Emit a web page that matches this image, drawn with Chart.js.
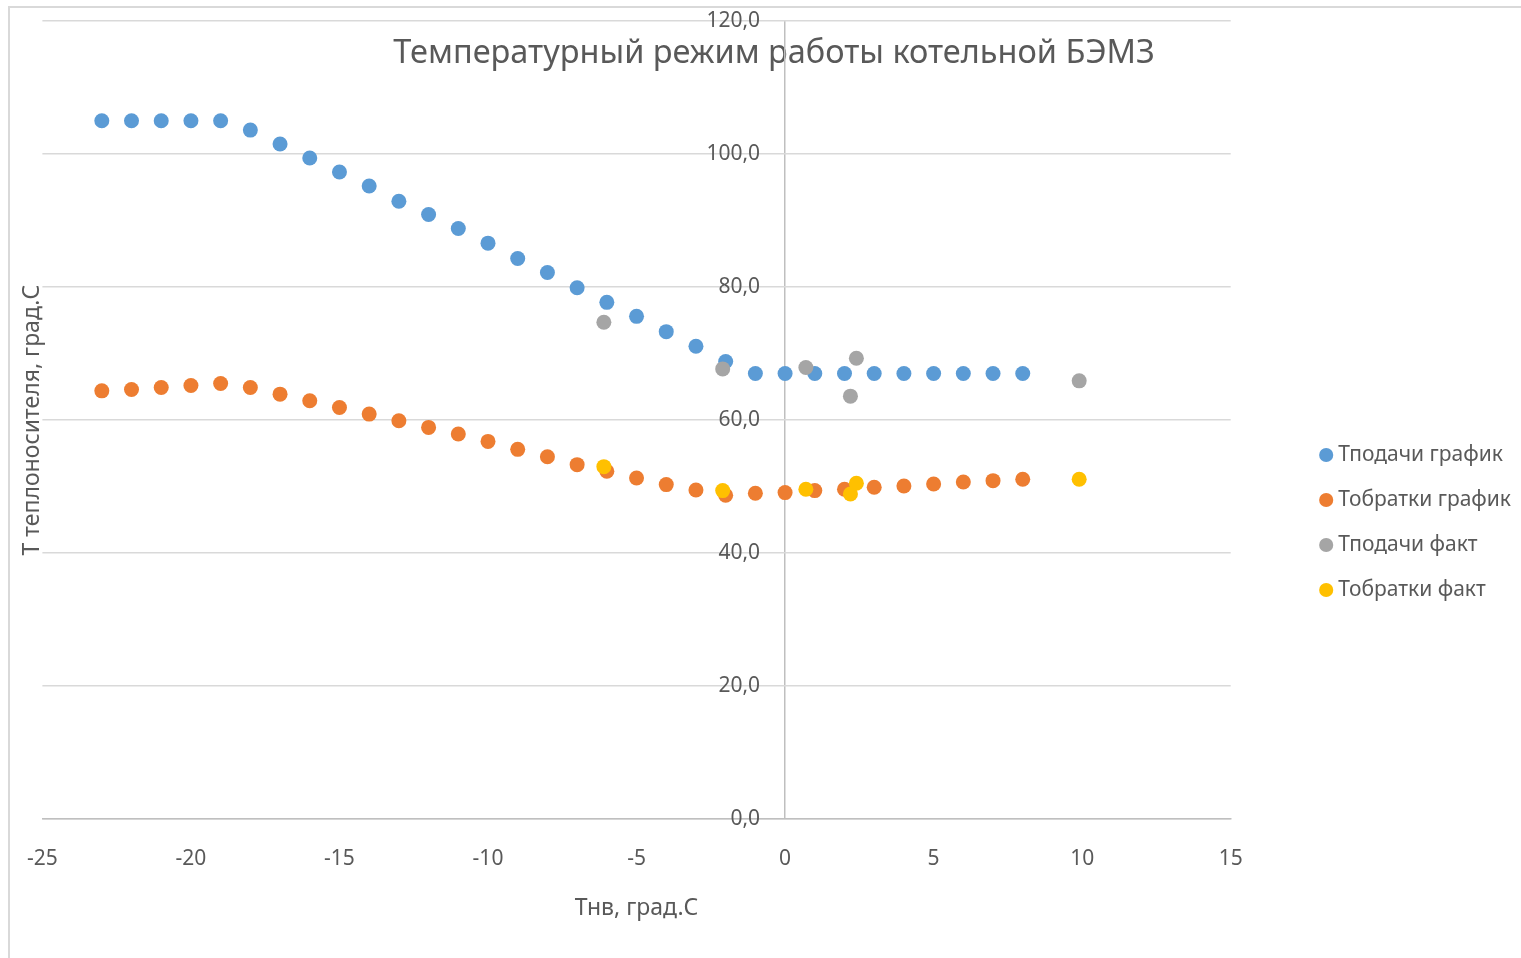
<!DOCTYPE html>
<html>
<head>
<meta charset="utf-8">
<script src="https://cdn.jsdelivr.net/npm/chart.js@4.4.1/dist/chart.umd.min.js"></script>
<style>
  html, body { margin: 0; padding: 0; background: #fff; overflow: hidden; }
  #frame { position: absolute; left: 8px; top: 6px; width: 1700px; height: 1100px; border: 2px solid #d9d9d9; }
  #wrap { position: absolute; left: 0; top: 0; width: 1521px; height: 958px; }
</style>
</head>
<body>
<div id="frame"></div>
<div id="wrap"><canvas id="myChart"></canvas></div>
<script>
var chartTitle = "Температурный режим работы котельной БЭМЗ";
var xTitle = "Тнв, град.С";
var yTitle = "Т теплоносителя, град.С";
var seriesNames = ["Тподачи график", "Тобратки график", "Тподачи факт", "Тобратки факт"];

// графики по наружной температуре
var xGraph = [-23, -22, -21, -20, -19, -18, -17, -16, -15, -14, -13, -12, -11, -10, -9, -8,
  -7, -6, -5, -4, -3, -2, -1, 0, 1, 2, 3, 4, 5, 6, 7, 8];
var tPodGraph = [105, 105, 105, 105, 105, 103.6, 101.5, 99.4, 97.3, 95.2, 92.9, 90.9, 88.8, 86.6, 84.3, 82.2,
  79.9, 77.7, 75.6, 73.3, 71.1, 68.8, 67, 67, 67, 67, 67, 67, 67, 67, 67, 67];
var tObrGraph = [64.4, 64.6, 64.9, 65.2, 65.5, 64.9, 63.9, 62.9, 61.9, 60.9, 59.9, 58.9, 57.9, 56.8, 55.6, 54.5,
  53.3, 52.3, 51.3, 50.3, 49.5, 48.7, 49.0, 49.1, 49.4, 49.6, 49.9, 50.1, 50.4, 50.7, 50.9, 51.1];

// фактические замеры
var xFact = [-6.1, -2.1, 0.7, 2.4, 2.2, 9.9];
var tPodFact = [74.7, 67.7, 67.9, 69.3, 63.6, 65.9];
var tObrFact = [53.0, 49.4, 49.6, 50.5, 48.9, 51.1];

var colors = ["#5b9bd5", "#ed7d31", "#a5a5a5", "#ffc000"];
var txt = "#595959";
var fam = "'Noto Sans', sans-serif";

function pts(xs, ys) {
  return xs.map(function (x, i) { return { x: x, y: ys[i] }; });
}

var ds = [
  [xGraph, tPodGraph, 2],
  [xGraph, tObrGraph, 2],
  [xFact, tPodFact, 1],
  [xFact, tObrFact, 1]
].map(function (d, i) {
  return {
    label: seriesNames[i],
    data: pts(d[0], d[1]),
    order: d[2],
    backgroundColor: colors[i],
    borderColor: colors[i],
    borderWidth: 0,
    pointRadius: 7.5,
    pointHoverRadius: 7.5,
    showLine: false
  };
});

var titlePlugin = {
  id: "overlayTitle",
  beforeDraw: function (chart) {
    var c = chart.ctx;
    c.save();
    c.font = "32.5px " + fam;
    c.fillStyle = txt;
    c.textAlign = "center";
    c.textBaseline = "middle";
    c.fillText(chartTitle, 774, 54);
    c.restore();
  }
};

var ctx = document.getElementById("myChart").getContext("2d");
var myChart = new Chart(ctx, {
  type: "scatter",
  data: { datasets: ds },
  plugins: [titlePlugin],
  options: {
    responsive: true,
    maintainAspectRatio: false,
    animation: false,
    layout: { padding: { top: 21, bottom: 32, right: 0, left: 0 } },
    scales: {
      x: {
        type: "linear",
        min: -25,
        max: 15,
        position: "bottom",
        ticks: { stepSize: 5, padding: 27, color: txt, font: { family: fam, size: 21 } },
        // only the line at x = 0 is visible (vertical axis)
        grid: {
          drawTicks: false,
          lineWidth: 1.5,
          color: function (c) { return c.tick && c.tick.value === 0 ? "#bfbfbf" : "rgba(0,0,0,0)"; }
        },
        border: { display: true, color: "#bfbfbf", width: 1.5 },
        title: { display: true, text: xTitle, color: txt, padding: { top: -4, bottom: 4 }, font: { family: fam, size: 23 } }
      },
      y: {
        type: "linear",
        min: 0,
        max: 120,
        position: { x: -0.84 },
        ticks: {
          stepSize: 20,
          color: txt,
          font: { family: fam, size: 21 },
          callback: function (v) { return v.toFixed(1).replace(".", ","); }
        },
        grid: { color: "#d9d9d9", lineWidth: 1.5, drawTicks: false },
        border: { display: false }
      },
      yTitle: {
        type: "linear",
        position: "left",
        min: 0,
        max: 1,
        ticks: { display: false },
        grid: { display: false, drawTicks: false },
        border: { display: false },
        title: { display: true, text: yTitle, color: txt, padding: { top: 17, bottom: 0 }, font: { family: fam, size: 23 } },
        afterFit: function (s) { s.width = 41; }
      },
      yGap: {
        type: "linear",
        position: "right",
        min: 0,
        max: 1,
        ticks: { display: false },
        grid: { display: false, drawTicks: false },
        border: { display: false },
        afterFit: function (s) { s.width = 70; }
      }
    },
    plugins: {
      title: { display: false },
      tooltip: { enabled: false },
      legend: {
        position: "right",
        align: "center",
        maxWidth: 400,
        title: { display: true, text: "", padding: { top: 86, bottom: 0 }, font: { size: 10 } },
        labels: {
          usePointStyle: true,
          pointStyle: "circle",
          boxWidth: 3,
          boxHeight: 10,
          padding: 24,
          color: txt,
          font: { family: fam, size: 21 },
          sort: function (a, b) { return a.datasetIndex - b.datasetIndex; }
        }
      }
    }
  }
});
</script>
</body>
</html>
